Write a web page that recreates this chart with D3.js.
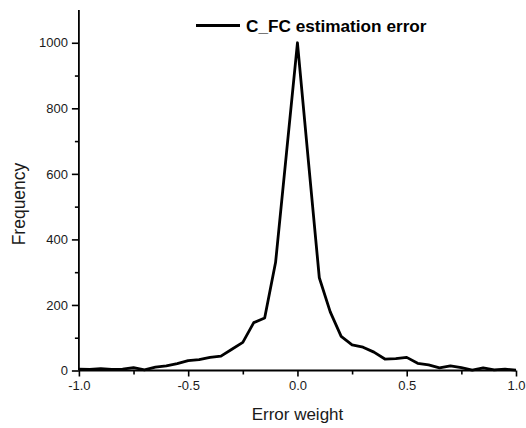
<!DOCTYPE html>
<html>
<head>
<meta charset="utf-8">
<script src="https://cdn.jsdelivr.net/npm/d3@7"></script>
<style>
  html, body { margin: 0; padding: 0; background: #fff; }
  svg { display: block; font-family: "Liberation Sans", Arial, sans-serif; }
</style>
</head>
<body>
<svg id="chart" width="526" height="428"></svg>
<script>
const errorWeights = [-1.0, -0.95, -0.9, -0.85, -0.8, -0.75, -0.7, -0.65, -0.6, -0.55,
  -0.5, -0.45, -0.4, -0.35, -0.3, -0.25, -0.2, -0.15, -0.1, -0.05,
  0.0, 0.05, 0.1, 0.15, 0.2, 0.25, 0.3, 0.35, 0.4, 0.45,
  0.5, 0.55, 0.6, 0.65, 0.7, 0.75, 0.8, 0.85, 0.9, 0.95, 1.0];
const frequency = [4, 3, 6, 3, 4, 9, 2, 10, 14, 21,
  30, 33, 40, 44, 65, 86, 146, 160, 330, 665,
  1000, 640, 283, 179, 104, 78, 71, 56, 35, 36,
  40, 22, 17, 8, 14, 9, 1, 8, 2, 4, 1];
const xTicks = [-1.0, -0.5, 0.0, 0.5, 1.0];
const xTickLabels = ["-1.0", "-0.5", "0.0", "0.5", "1.0"];
const xMinorTicks = [-0.75, -0.25, 0.25, 0.75];
const yTicks = [0, 200, 400, 600, 800, 1000];
const yMinorTicks = [100, 300, 500, 700, 900];
const seriesName = "C_FC estimation error";
const xTitle = "Error weight";
const yTitle = "Frequency";

(function () {
const svg = d3.select("#chart");
const mLeft = 78.9, mRight = 516, mTop = 10, mBottom = 370.5;
const x = d3.scaleLinear().domain([-1, 1]).range([mLeft, mRight]);
const y = d3.scaleLinear().domain([0, 1100]).range([mBottom, mTop]);

// minor ticks
const gxm = svg.append("g").attr("transform", `translate(0,${mBottom})`)
  .call(d3.axisBottom(x).tickValues(xMinorTicks).tickSize(4).tickFormat(""));
const gym = svg.append("g").attr("transform", `translate(${mLeft},0)`)
  .call(d3.axisLeft(y).tickValues(yMinorTicks).tickSize(4).tickFormat(""));

const gx = svg.append("g").attr("transform", `translate(0,${mBottom})`)
  .call(d3.axisBottom(x).tickValues(xTicks).tickSize(6).tickPadding(4)
    .tickFormat((d, i) => xTickLabels[i]));
const gy = svg.append("g").attr("transform", `translate(${mLeft},0)`)
  .call(d3.axisLeft(y).tickValues(yTicks).tickSize(7).tickPadding(4).tickFormat(d3.format("d")));

[gx, gy, gxm, gym].forEach(g => {
  g.selectAll("path").attr("stroke", "#000").attr("stroke-width", 1.8);
  g.selectAll("line").attr("stroke", "#000").attr("stroke-width", 1.6);
  g.selectAll("text").attr("fill", "#1a1a1a").style("font-size", "13px")
    .style("font-family", "'Liberation Sans', Arial, sans-serif");
});
gxm.select("path").remove();
gym.select("path").remove();
gx.select("path").attr("d", `M${mLeft},0H${mRight}`);
gy.select("path").attr("d", `M0,${mBottom}V${mTop}`);

// line
const line = d3.line().x((d, i) => x(errorWeights[i])).y(d => y(d));
svg.append("path").datum(frequency)
  .attr("d", line)
  .attr("fill", "none").attr("stroke", "#000").attr("stroke-width", 2.8)
  .attr("stroke-linejoin", "round");

// legend
svg.append("line").attr("x1", 196).attr("x2", 240).attr("y1", 25.5).attr("y2", 25.5)
  .attr("stroke", "#000").attr("stroke-width", 3.2);
svg.append("text").attr("x", 246).attr("y", 32)
  .style("font-size", "17.2px").style("font-weight", "bold").attr("fill", "#000")
  .text(seriesName);

// axis titles
svg.append("text").attr("x", (mLeft + mRight) / 2).attr("y", 420)
  .attr("text-anchor", "middle").style("font-size", "17px").attr("fill", "#1a1a1a")
  .text(xTitle);
svg.append("text").attr("transform", `translate(24.5,204) rotate(-90)`)
  .attr("text-anchor", "middle").style("font-size", "17.5px").attr("fill", "#1a1a1a")
  .text(yTitle);
})();
</script>
</body>
</html>
